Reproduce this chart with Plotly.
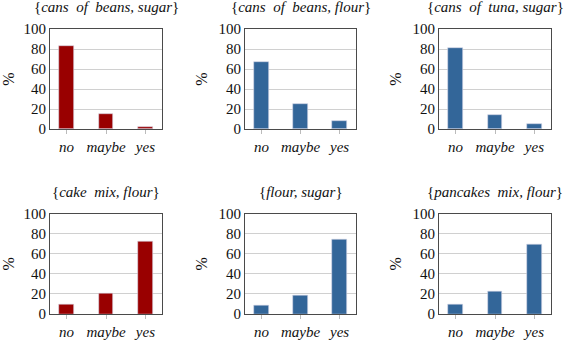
import plotly.graph_objects as go

categories = ["no", "maybe", "yes"]
titles = ["cans  of  beans, sugar", "cans  of  beans, flour", "cans  of  tuna, sugar",
          "cake  mix, flour", "flour, sugar", "pancakes  mix, flour"]
values = [
    [83, 15, 2],
    [67, 25, 8],
    [81, 14, 5],
    [9, 20, 72],
    [8.5, 18, 74],
    [9, 22, 69],
]
colors = ["#990000", "#336699", "#336699", "#990000", "#336699", "#336699"]
yticks = [0, 20, 40, 60, 80, 100]

W, H = 565, 340
xdoms = [(50, 162), (245, 356), (439, 551)]
ydoms = [(29, 129), (213.5, 314)]
FONT = "'Liberation Serif', 'DejaVu Serif', 'Times New Roman', serif"

fig = go.Figure()
annotations = []
for i in range(6):
    r, c = divmod(i, 3)
    n = i + 1
    xa = "x" if n == 1 else f"x{n}"
    ya = "y" if n == 1 else f"y{n}"
    fig.add_trace(go.Bar(x=categories, y=values[i], xaxis=xa, yaxis=ya,
                         marker=dict(color=colors[i], line=dict(width=0.6, color="#d8d8e8")),
                         width=0.38, showlegend=False))
    x0, x1 = xdoms[c]
    y0, y1 = ydoms[r]
    xd = [x0 / W, x1 / W]
    yd = [(H - y1) / H, (H - y0) / H]
    fig.layout[f"xaxis{'' if n == 1 else n}"] = dict(
        domain=xd, anchor=ya, range=[-0.42, 2.42], showline=True, mirror=True,
        linecolor="#4a4a4a", linewidth=1, showgrid=False, ticks="outside",
        ticklen=4, tickcolor="#bbbbbb", tickfont=dict(family=FONT, size=15, color="#111"),
        tickprefix="<i>", ticksuffix="</i>", fixedrange=True, automargin=False)
    fig.layout[f"yaxis{'' if n == 1 else n}"] = dict(
        domain=yd, anchor=xa, range=[0, 100], tickvals=yticks, showline=True,
        mirror=True, linecolor="#4a4a4a", linewidth=1, showgrid=True,
        gridcolor="#d0d0d0", gridwidth=1, zeroline=False, ticks="",
        tickfont=dict(family=FONT, size=15, color="#111"), automargin=False,
        title=dict(text="%", font=dict(family=FONT, size=16, color="#111"), standoff=6))
    annotations.append(dict(
        text="{<i>" + titles[i] + "</i>}", x=(x0 + x1) / 2 / W,
        y=(H - y0 + 22) / H, xref="paper", yref="paper", showarrow=False,
        xanchor="center", yanchor="middle",
        font=dict(family=FONT, size=15, color="#111")))

fig.update_layout(width=W, height=H, margin=dict(l=0, r=0, t=0, b=0),
                  paper_bgcolor="white", plot_bgcolor="white",
                  annotations=annotations, bargap=0)
fig.write_html("out.html", config={"displayModeBar": False},
               post_script="document.documentElement.style.margin='0';"
                           "document.body.style.margin='0';document.body.style.padding='0';"
                           "document.documentElement.style.overflow='hidden';"
                           "document.body.style.overflow='hidden';")
